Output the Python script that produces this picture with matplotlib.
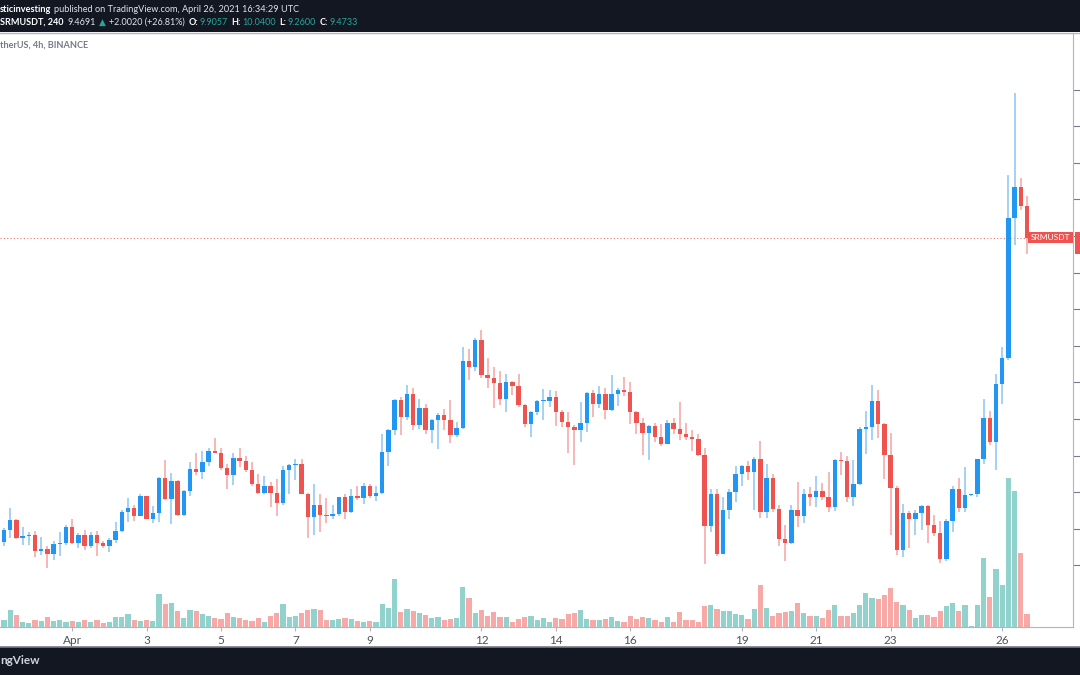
import numpy as np
import pandas as pd
import matplotlib
matplotlib.use("Agg")
import matplotlib.pyplot as plt
import matplotlib.dates as mdates
from matplotlib.patches import Rectangle

# SRM/USDT 4h candles, Binance, 2021-03-30 04:00 UTC onward
first_open = 5.32
closes = [
    5.49, 5.62, 5.37, 5.40, 5.41, 5.20, 5.22, 5.16, 5.29, 5.31,
    5.52, 5.31, 5.41, 5.27, 5.41, 5.30, 5.26, 5.35, 5.47, 5.73,
    5.78, 5.68, 5.95, 5.63, 5.72, 6.19, 5.91, 6.16, 5.69, 6.01,
    6.32, 6.27, 6.41, 6.56, 6.54, 6.33, 6.24, 6.47, 6.43, 6.30,
    6.11, 5.99, 6.08, 5.99, 5.85, 6.30, 6.37, 6.38, 5.98, 5.66,
    5.83, 5.69, 5.68, 5.70, 5.93, 5.73, 5.95, 5.92, 6.08, 5.95,
    5.99, 6.55, 6.85, 7.26, 7.03, 7.34, 6.92, 7.15, 6.85, 6.99,
    7.06, 6.99, 6.78, 6.88, 7.79, 7.71, 8.08, 7.60, 7.56, 7.49,
    7.27, 7.50, 7.45, 7.19, 6.93, 7.10, 7.24, 7.25, 7.30, 7.10,
    6.96, 6.89, 6.85, 6.95, 7.36, 7.20, 7.34, 7.12, 7.34, 7.39,
    7.37, 7.09, 6.95, 6.81, 6.90, 6.76, 6.66, 6.95, 6.86, 6.80,
    6.76, 6.73, 6.51, 5.54, 5.97, 5.16, 5.76, 6.00, 6.25, 6.36,
    6.28, 6.45, 5.73, 6.20, 5.77, 5.36, 5.30, 5.76, 5.68, 5.98,
    5.93, 6.02, 5.93, 5.80, 6.44, 6.42, 5.94, 6.11, 6.86, 6.89,
    7.25, 6.93, 6.51, 6.06, 5.21, 5.71, 5.63, 5.71, 5.81, 5.55,
    5.44, 5.09, 5.61, 6.04, 5.79, 5.96, 5.98, 6.45, 7.01, 6.69,
    7.48, 7.84, 9.75, 10.17, 9.9057, 9.4733,
]
highs = [
    5.51, 5.78, 5.63, 5.53, 5.46, 5.47, 5.39, 5.26, 5.34, 5.46,
    5.55, 5.64, 5.44, 5.48, 5.46, 5.47, 5.34, 5.37, 5.59, 5.76,
    5.92, 5.83, 5.98, 5.95, 5.81, 6.21, 6.44, 6.26, 6.17, 6.03,
    6.41, 6.53, 6.56, 6.60, 6.74, 6.60, 6.39, 6.53, 6.61, 6.49,
    6.41, 6.25, 6.22, 6.14, 6.18, 6.36, 6.39, 6.45, 6.46, 5.99,
    6.11, 5.98, 5.92, 5.83, 5.94, 5.98, 6.05, 6.08, 6.12, 6.11,
    6.08, 6.80, 6.87, 7.28, 7.30, 7.46, 7.43, 7.27, 7.20, 7.00,
    7.08, 7.14, 7.26, 6.96, 7.99, 7.95, 8.11, 8.22, 7.83, 7.71,
    7.65, 7.62, 7.52, 7.62, 7.21, 7.11, 7.26, 7.41, 7.40, 7.38,
    7.12, 7.09, 6.92, 7.23, 7.37, 7.39, 7.45, 7.43, 7.60, 7.43,
    7.57, 7.50, 7.11, 7.02, 6.92, 6.94, 6.93, 6.98, 7.02, 7.23,
    6.95, 6.85, 6.80, 6.60, 6.04, 6.04, 5.93, 6.05, 6.36, 6.37,
    6.43, 6.48, 6.70, 6.38, 6.25, 5.83, 5.55, 5.82, 6.14, 6.05,
    6.07, 6.22, 6.13, 6.27, 6.46, 6.55, 6.49, 6.44, 6.89, 7.11,
    7.46, 7.40, 6.94, 6.81, 6.08, 5.84, 5.74, 5.76, 5.83, 5.82,
    5.69, 5.61, 5.63, 6.09, 6.20, 6.35, 5.98, 6.46, 7.28, 7.11,
    7.61, 7.98, 10.33, 11.46, 10.29, 10.04,
]
lows = [
    5.26, 5.37, 5.36, 5.28, 5.28, 5.12, 5.14, 4.97, 5.07, 5.13,
    5.28, 5.29, 5.24, 5.21, 5.24, 5.13, 5.24, 5.19, 5.31, 5.46,
    5.59, 5.61, 5.67, 5.63, 5.58, 5.60, 5.90, 5.57, 5.68, 5.67,
    5.95, 6.23, 6.18, 6.36, 6.53, 6.30, 6.04, 6.10, 6.35, 6.28,
    6.08, 5.98, 5.98, 5.80, 5.67, 5.83, 5.98, 6.17, 5.97, 5.37,
    5.42, 5.46, 5.58, 5.64, 5.68, 5.64, 5.71, 5.90, 5.84, 5.92,
    5.88, 5.98, 6.36, 6.78, 6.78, 6.99, 6.85, 6.87, 6.79, 6.67,
    6.59, 6.85, 6.67, 6.75, 6.86, 7.53, 7.66, 7.56, 7.43, 7.15,
    7.19, 7.10, 7.33, 7.17, 6.89, 6.76, 7.05, 6.99, 7.16, 6.90,
    6.89, 6.53, 6.37, 6.68, 6.82, 7.03, 7.15, 7.00, 7.11, 7.18,
    7.32, 6.93, 6.80, 6.51, 6.44, 6.68, 6.63, 6.66, 6.80, 6.72,
    6.71, 6.56, 6.50, 5.02, 5.45, 5.13, 5.16, 5.63, 5.87, 6.08,
    6.17, 5.76, 5.65, 5.65, 5.73, 5.26, 5.06, 5.29, 5.52, 5.58,
    5.81, 5.80, 5.89, 5.73, 5.75, 6.24, 5.86, 5.81, 6.10, 6.52,
    6.71, 6.74, 6.18, 5.42, 5.14, 5.12, 5.24, 5.42, 5.48, 5.31,
    5.40, 5.03, 5.06, 5.45, 5.73, 5.73, 5.95, 5.94, 6.39, 6.64,
    6.30, 7.21, 7.81, 9.38, 9.86, 9.26,
]
# volume, relative units
volumes = [
    7.3, 17.3, 11.7, 5, 3.7, 6.7, 5.7, 10.3, 5.7, 6.7,
    4.7, 5.7, 4.7, 6.7, 5, 6.7, 3.7, 5, 9.7, 9.7,
    13.3, 6.7, 5.7, 6.7, 5.7, 33.3, 23, 24.3, 15.7, 9,
    16.7, 15.7, 13.3, 11, 9.3, 8, 14, 10.3, 9, 6.7,
    5.7, 9, 5, 11.3, 14.3, 22.7, 9.7, 11.3, 13.7, 17,
    18.3, 17.3, 7.3, 6.7, 7.7, 9, 8.3, 6, 5, 6,
    5, 22.7, 19.3, 47.7, 14.7, 17.7, 15.7, 14.3, 11.7, 9,
    9.7, 7.3, 8.3, 9, 40.3, 29, 14.3, 17.3, 11.3, 14.7,
    10.3, 9.7, 5.3, 8.3, 9.7, 10.7, 7.3, 9, 5.3, 9,
    8.3, 12.7, 13.7, 17.3, 8.3, 7.3, 7.3, 8.3, 9.7, 6,
    5.3, 10.7, 8.3, 9.7, 9, 6.7, 5.3, 9.7, 5.3, 14.7,
    7.3, 6.7, 4.7, 20.7, 22.3, 17.7, 15.7, 15.7, 12.7, 11.7,
    7.7, 17.7, 41.7, 19, 11.3, 14, 14.7, 15.7, 23.7, 14.3,
    10.7, 11, 9, 17, 21.7, 11.3, 10.7, 14, 22.3, 33.7,
    29, 27.7, 31.7, 38.7, 24.7, 21.7, 17, 9, 12, 12,
    10, 15.7, 20.7, 23.7, 15.7, 21.7, 0.7, 22.3, 69.3, 29.7,
    57.7, 42.3, 149, 136, 73.7, 12.7,
]
last_price = 9.4733
price_ticks = np.arange(5.0, 12.0, 0.5)
date_ticks = ["2021-04-01", "2021-04-03", "2021-04-05", "2021-04-07", "2021-04-09",
              "2021-04-12", "2021-04-14", "2021-04-16", "2021-04-19", "2021-04-21",
              "2021-04-23", "2021-04-26"]
date_labels = ["Apr", "3", "5", "7", "9", "12", "14", "16", "19", "21", "23", "26"]

UP = "#2196f3"
DOWN = "#ef5350"
VOL_UP = "#92d2cc"
VOL_DOWN = "#f7a9a7"
DARK = "#131722"
TEAL = "#26a69a"

W, H = 1080, 675

plt.rcParams["font.family"] = ["Lato", "DejaVu Sans"]

closes = np.array(closes)
opens = np.concatenate([[first_open], closes[:-1]])
highs = np.maximum(np.array(highs), np.maximum(opens, closes))
lows = np.minimum(np.array(lows), np.minimum(opens, closes))
up = closes >= opens

times = pd.date_range("2021-03-30 04:00", periods=len(closes), freq="4h")
x = mdates.date2num(times)
step = 4 / 24

fig = plt.figure(figsize=(W / 100, H / 100), dpi=100)
fig.patch.set_facecolor("white")


def px_rect(left, top, right, bottom):
    return [left / W, 1 - bottom / H, (right - left) / W, (bottom - top) / H]


rect = px_rect(0, 33, 1073, 627)
vax = fig.add_axes(rect)
ax = fig.add_axes(rect, sharex=vax)
ax.patch.set_visible(False)

# volume underneath
vax.bar(x, volumes, width=step * 0.86, color=np.where(up, VOL_UP, VOL_DOWN), linewidth=0)
vax.set_ylim(0, max(volumes) / 0.251)
vax.axis("off")

# candles
wick_cols = np.where(up, "#8cc5f6", "#f5a3a2")
ax.vlines(x, lows, highs, colors=wick_cols, linewidth=1.1, zorder=2)
body_h = np.maximum(np.abs(closes - opens), 0.014)
ax.bar(x, body_h, bottom=np.minimum(opens, closes), width=step * 0.68,
       color=np.where(up, UP, DOWN), linewidth=0, zorder=3)

ax.set_xlim(x[0] - 0.645 * step, x[0] + 172.42 * step)
ax.set_ylim(4.159, 12.273)

# last price line and tag
ax.axhline(last_price, color=DOWN, linewidth=0.8, linestyle=(0, (1, 2)), alpha=0.8, zorder=1)

for s in ["top", "left"]:
    ax.spines[s].set_visible(False)
ax.spines["right"].set_color("#b2b5be")
ax.spines["bottom"].set_color("#b2b5be")
ax.yaxis.tick_right()
ax.set_yticks(price_ticks)
ax.tick_params(axis="y", length=5, color="#787b86", labelright=False, direction="out")
ax.set_xticks(mdates.date2num(pd.to_datetime(date_ticks)))
ax.set_xticklabels(date_labels)
ax.tick_params(axis="x", length=3, color="#b2b5be", labelsize=8.5, labelcolor="#50535e", pad=3)

fig.add_artist(Rectangle((1028 / W, 1 - 243 / H), 45 / W, 11 / H, transform=fig.transFigure,
                         facecolor=DOWN, edgecolor="none", zorder=5))
fig.add_artist(Rectangle((1075 / W, 1 - 254 / H), 5 / W, 22 / H, transform=fig.transFigure,
                         facecolor=DOWN, edgecolor="none", zorder=5))
fig.text(1050.5 / W, 1 - 237.5 / H, "SRMUSDT", color="white", fontsize=6.0,
         ha="center", va="center", zorder=6)

# header and footer bands
fig.add_artist(Rectangle((0, 1 - 32 / H), 1, 32 / H, transform=fig.transFigure,
                         facecolor=DARK, edgecolor="none", zorder=4))
fig.add_artist(plt.Line2D([0, 1], [1 - 32.5 / H] * 2, transform=fig.transFigure,
                          color="#b2b5be", linewidth=1, zorder=4))
fig.add_artist(Rectangle((0, 0), 1, 28 / H, transform=fig.transFigure,
                         facecolor=DARK, edgecolor="none", zorder=4))
fig.add_artist(plt.Line2D([0, 1], [28.5 / H] * 2, transform=fig.transFigure,
                          color="#787b86", linewidth=1.2, zorder=4))

renderer = fig.canvas.get_renderer()


def draw_pieces(x_px, y_px, pieces, size):
    for txt, color, weight, gap in pieces:
        x_px += gap
        t = fig.text(x_px / W, 1 - y_px / H, txt, color=color, fontsize=size,
                     fontweight=weight, ha="left", va="center", zorder=6)
        x_px += t.get_window_extent(renderer=renderer).width


draw_pieces(0, 9.5, [
    ("sticinvesting", "white", "bold", 0),
    ("published on TradingView.com, April 26, 2021 16:34:29 UTC", "#e0e3eb", "normal", 3),
], 6.6)
draw_pieces(0, 22.5, [
    ("SRMUSDT, 240", "white", "bold", 0),
    ("9.4691", "#e0e3eb", "normal", 4),
    ("▲", TEAL, "normal", 3),
    ("+2.0020 (+26.81%)", "#e0e3eb", "normal", 3),
    ("O:", "white", "bold", 4),
    ("9.9057", TEAL, "normal", 1),
    ("H:", "white", "bold", 4),
    ("10.0400", TEAL, "normal", 1),
    ("L:", "white", "bold", 4),
    ("9.2600", TEAL, "normal", 1),
    ("C:", "white", "bold", 4),
    ("9.4733", TEAL, "normal", 1),
], 6.5)

fig.text(0, 1 - 45 / H, "therUS, 4h, BINANCE", color="#787b86", fontsize=6.6,
         fontweight="bold", ha="left", va="center")
fig.text(0, 1 - 661 / H, "ngView", color="#d1d4dc", fontsize=8.5,
         fontweight="bold", ha="left", va="center", zorder=6)

fig.savefig("out.png", dpi=100, facecolor=fig.get_facecolor())
